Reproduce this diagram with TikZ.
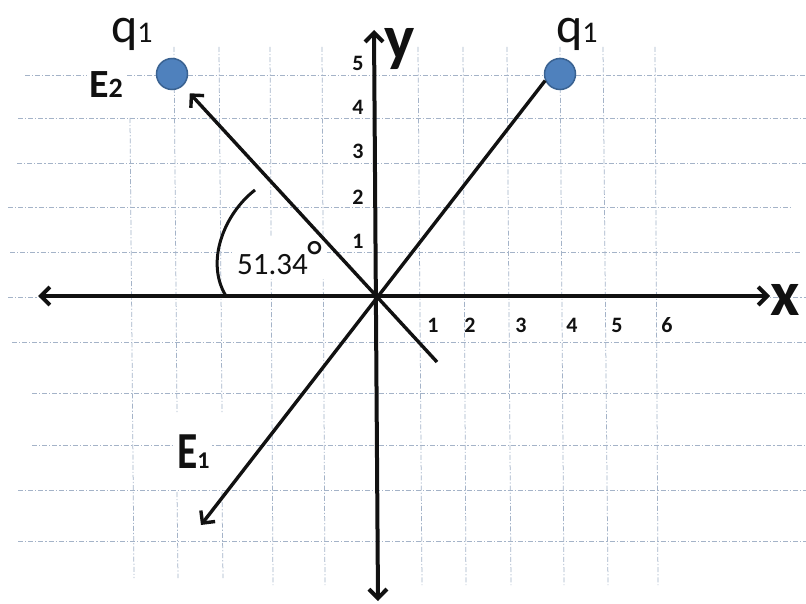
\documentclass[tikz,border=0pt]{standalone}
\usepackage{fontspec}
\setmainfont{Carlito}
\usetikzlibrary{arrows.meta}
\definecolor{Grid}{HTML}{A4B3C8}
\definecolor{Charge}{HTML}{4F81BD}
\definecolor{ChargeEdge}{HTML}{3A6291}
\definecolor{Ink}{HTML}{111111}
\begin{document}
\begin{tikzpicture}[x=1pt,y=-1pt,>={Straight Barb[length=9pt,width=18pt]},
  gridline/.style={Grid,line width=0.75pt,dash pattern=on 5pt off 2pt on 1.2pt off 2pt},
  axis/.style={Ink,line width=4pt},
  vec/.style={Ink,line width=3.4pt},
  charge/.style={circle,minimum size=31pt,inner sep=0pt,fill=Charge,draw=ChargeEdge,line width=1.5pt},
  tick/.style={anchor=base,inner sep=0pt,text=Ink,font=\fontsize{22}{22}\selectfont\bfseries},
  axlabel/.style={anchor=base west,inner sep=0pt,text=Ink,font=\fontsize{64}{64}\selectfont\bfseries},
  qlabel/.style={anchor=base west,inner sep=0pt,text=Ink,font=\fontsize{50}{50}\selectfont},
  elabel/.style={anchor=base west,inner sep=2pt,fill=white,text=Ink,font=\bfseries}]
\useasboundingbox (0,0) rectangle (806,604);
\fill[white] (0,0) rectangle (806,604);
\draw[gridline] (25,75) -- (806,75);
\draw[gridline] (18,118) -- (806,118);
\draw[gridline] (17,163) -- (806,163);
\draw[gridline] (8,207) -- (792,207);
\draw[gridline] (10,252) -- (800,252);
\draw[gridline] (8,297) -- (806,297);
\draw[gridline] (12,342) -- (806,342);
\draw[gridline] (32,393) -- (806,393);
\draw[gridline] (32,445) -- (806,445);
\draw[gridline] (18,490) -- (806,490);
\draw[gridline] (18,541) -- (806,541);
\draw[gridline] (130,118) -- (134,578);
\draw[gridline] (174,47) -- (177,413);
\draw[gridline] (177,492) -- (178,578);
\draw[gridline] (219,47) -- (222,413);
\draw[gridline] (222,492) -- (223,578);
\draw[gridline] (270,47) -- (273,585);
\draw[gridline] (322,47) -- (325,585);
\draw[gridline] (418,47) -- (422,585);
\draw[gridline] (463,47) -- (466,585);
\draw[gridline] (507,47) -- (511,585);
\draw[gridline] (560,47) -- (564,585);
\draw[gridline] (603,47) -- (608,585);
\draw[gridline] (655,47) -- (658,585);
\coordinate (O) at (376,296);
\coordinate (xl) at (38,296);
\coordinate (xr) at (770,296);
\coordinate (yt) at (374,30);
\coordinate (yb) at (378,601);
\coordinate (e2s) at (437,362);
\coordinate (e1t) at (201,525);
\node[charge] (qa) at (172,74) {};
\node[charge] (qb) at (560,74) {};
\node[tick] (ty1) at (358,249) {1};
\node[tick] (ty2) at (358,205) {2};
\node[tick] (ty3) at (358,159) {3};
\node[tick] (ty4) at (358,115) {4};
\node[tick] (ty5) at (358,71) {5};
\node[tick] (tx1) at (433,332) {1};
\node[tick] (tx2) at (470,332) {2};
\node[tick] (tx3) at (521,332) {3};
\node[tick] (tx4) at (572,332) {4};
\node[tick] (tx5) at (617,332) {5};
\node[tick] (tx6) at (667,332) {6};
\node[elabel,inner sep=4pt] (ang) at (233,275) {\fontsize{31}{31}\selectfont\mdseries 51.34\raisebox{4pt}{\fontsize{44}{44}\selectfont °}};
\draw[vec,line width=3pt] (255,190) .. controls (224,214) and (205,262) .. (226,296);
\draw[axis,<->] (xl) -- (xr);
\draw[axis,<->] (yt) -- (yb);
\draw[vec,->,shorten >=10pt] (e2s) -- (qa);
\draw[vec,->] (qb.204) -- (e1t);
\node[axlabel] (xlab) at (770,315) {x};
\node[axlabel] (ylab) at (384,60) {y};
\node[qlabel] (qla) at (111,43) {q{\fontsize{30}{30}\selectfont 1}};
\node[qlabel] (qlb) at (556,43) {q{\fontsize{30}{30}\selectfont 1}};
\node[elabel] (e2) at (87,98) {\fontsize{40}{40}\selectfont E{\fontsize{28}{28}\selectfont 2}};
\node[elabel] (e1) at (175,468) {\fontsize{52}{52}\selectfont\scalebox{0.8}[1]{E}{\fontsize{24}{24}\selectfont 1}};
\end{tikzpicture}
\end{document}
